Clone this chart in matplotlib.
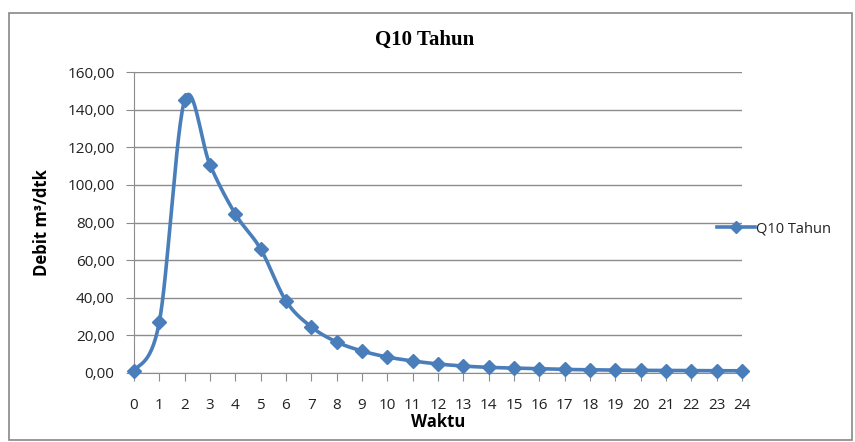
import numpy as np
import matplotlib
matplotlib.use("Agg")
import matplotlib.pyplot as plt
from matplotlib.patches import Rectangle
from matplotlib.ticker import FuncFormatter

waktu = list(range(25))
debit = [1.0, 27.1, 145.1, 110.6, 84.5, 65.9, 38.3, 24.5, 16.5, 11.7, 8.5, 6.4,
         4.8, 3.7, 3.0, 2.6, 2.2, 1.9, 1.7, 1.5, 1.4, 1.3, 1.3, 1.2, 1.2]
yticks = [0, 20, 40, 60, 80, 100, 120, 140, 160]
series_name = "Q10 Tahun"

blue = "#4a7ebb"
grid_c = "#8c8c8c"


def smooth(x, y, n=30):
    # excel-like smoothed line: bezier through points, catmull-rom tangents
    x = np.asarray(x, float)
    y = np.asarray(y, float)
    xs, ys = [], []
    for i in range(len(x) - 1):
        p0 = i - 1 if i > 0 else i
        p3 = i + 2 if i + 2 < len(x) else i + 1
        c1x = x[i] + (x[i + 1] - x[p0]) / 6
        c1y = y[i] + (y[i + 1] - y[p0]) / 6
        c2x = x[i + 1] - (x[p3] - x[i]) / 6
        c2y = y[i + 1] - (y[p3] - y[i]) / 6
        t = np.linspace(0, 1, n)
        a, b, c, d = (1 - t) ** 3, 3 * t * (1 - t) ** 2, 3 * t ** 2 * (1 - t), t ** 3
        xs.extend(a * x[i] + b * c1x + c * c2x + d * x[i + 1])
        ys.extend(a * y[i] + b * c1y + c * c2y + d * y[i + 1])
    return xs, ys


fig = plt.figure(figsize=(8.55, 4.42), dpi=100)
ax = fig.add_axes([134 / 855, 69 / 442, 608 / 855, 301 / 442])

sx, sy = smooth(waktu, debit)
ax.plot(sx, sy, color=blue, lw=2.6, solid_capstyle="round", zorder=3, clip_on=False)
ax.plot(waktu, debit, linestyle="none", marker="D", ms=7, color=blue, zorder=4,
        clip_on=False)
# legend proxy
ax.plot([], [], color=blue, lw=2.6, marker="D", ms=6, label=series_name)

ax.set_xlim(0, 24)
ax.set_ylim(0, 160)
ax.set_xticks(waktu)
ax.set_yticks(yticks)
ax.yaxis.set_major_formatter(FuncFormatter(lambda v, p: f"{v:.2f}".replace(".", ",")))
ax.grid(axis="y", color=grid_c, lw=1)
ax.set_axisbelow(True)
for s in ["top", "right"]:
    ax.spines[s].set_visible(False)
for s in ["left", "bottom"]:
    ax.spines[s].set_color(grid_c)
ax.tick_params(axis="both", color=grid_c, length=6, labelsize=11, labelcolor="#222222")
ax.tick_params(axis="x", pad=12)
ax.tick_params(axis="y", pad=8)
for lab in ax.get_xticklabels() + ax.get_yticklabels():
    lab.set_family("Open Sans")

ax.set_xlabel("Waktu", fontsize=12, fontweight="bold", family="Open Sans", labelpad=0)
ax.set_ylabel("Debit m³/dtk", fontsize=12, fontweight="bold", family="Open Sans", labelpad=12)
fig.text(425 / 855, 1 - 40 / 442, series_name, ha="center", va="center",
         fontsize=15, fontweight="bold", family="Liberation Serif")

leg = ax.legend(loc="center left", bbox_to_anchor=(0.959, 0.48), frameon=False,
                prop={"family": "Open Sans", "size": 10.5}, handlelength=2.6,
                handletextpad=0.1, borderaxespad=0, borderpad=0)
for t in leg.get_texts():
    t.set_color("#222222")

fig.patches.append(Rectangle((9 / 855, 2 / 442), 843 / 855, 427 / 442,
                             transform=fig.transFigure, fill=False,
                             edgecolor="#888888", lw=1.2))

fig.savefig("out.png", dpi=100)
